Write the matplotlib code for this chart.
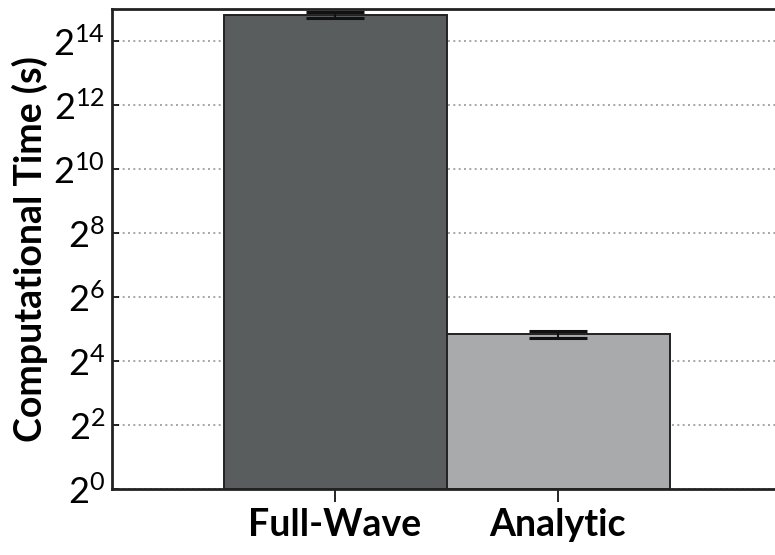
import numpy as np
import matplotlib
matplotlib.use("Agg")
import matplotlib.pyplot as plt
from matplotlib.ticker import FixedLocator, FuncFormatter

plt.rcParams['font.family'] = ['Lato', 'DejaVu Sans']
plt.rcParams['mathtext.fontset'] = 'custom'
plt.rcParams['mathtext.rm'] = 'Lato'
plt.rcParams['mathtext.it'] = 'Lato'

# Mean run time and spread for each solver, in seconds.
methods = ["Full-Wave", "Analytic"]
times = [29000, 28.5]
errors = [1900, 2.4]
bar_colors = ["#5a5d5e", "#a9aaab"]

exponents = [0, 2, 4, 6, 8, 10, 12, 14]

fig = plt.figure(figsize=(7.75, 5.55), dpi=100)
ax = fig.add_axes([112/775, 66/555, 669/775, 480/555])

x = np.arange(len(methods))
ax.bar(x, np.array(times) - 1, bottom=1, width=1.0, color=bar_colors,
       edgecolor="#222222", linewidth=1.4, zorder=2)
ax.errorbar(x, times, yerr=errors, fmt="none", ecolor="#111111",
            elinewidth=1.5, capsize=21, capthick=2.2, zorder=3)

ax.set_yscale("log", base=2)
ax.set_ylim(1, 2**15)
ax.set_xlim(-1, 2)
ax.yaxis.set_major_locator(FixedLocator([2.0**e for e in exponents]))
ax.yaxis.set_minor_locator(FixedLocator([]))
ax.yaxis.set_major_formatter(
    FuncFormatter(lambda v, pos: r"$\mathregular{2^{%d}}$" % round(np.log2(v))))
ax.set_xticks(x)
ax.set_xticklabels(methods, fontsize=27, fontweight="bold")

ax.tick_params(axis="y", direction="in", length=5, width=1.2, labelsize=26,
               pad=5)
ax.tick_params(axis="x", direction="out", length=9, width=1.2, pad=5)
ax.grid(axis="y", linestyle=(0, (1.2, 2)), color="#999999", linewidth=1.2,
        zorder=0)
ax.set_axisbelow(True)

for side in ["left", "bottom", "top", "right"]:
    ax.spines[side].set_linewidth(2)
    ax.spines[side].set_color("#222222")

ax.set_ylabel("Computational Time (s)", fontsize=27, fontweight="bold",
              labelpad=4)

fig.savefig("out.png", dpi=100)
